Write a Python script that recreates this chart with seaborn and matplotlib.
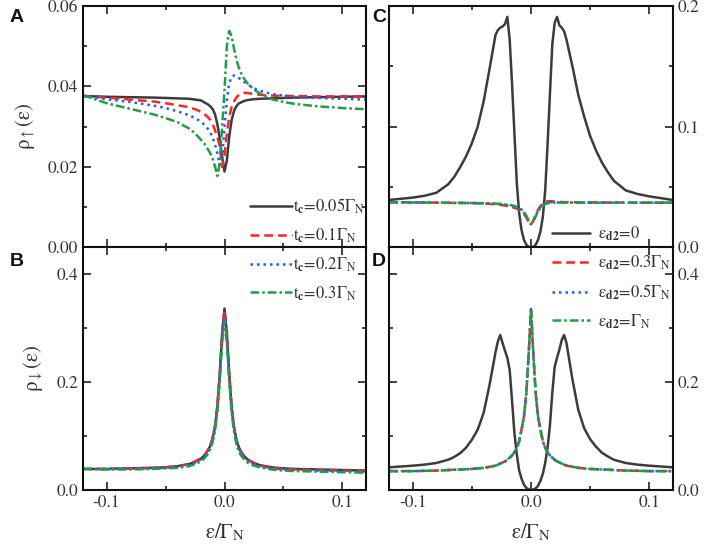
import numpy as np
import pandas as pd
import matplotlib
matplotlib.use('Agg')
import matplotlib.pyplot as plt
from matplotlib.ticker import MultipleLocator, FormatStrFormatter
import seaborn as sns

# x grids (denser near the centre)
x_ab = [-0.12, -0.10, -0.08, -0.06, -0.05, -0.04, -0.03, -0.025, -0.02, -0.017, -0.014,
        -0.012, -0.010, -0.008, -0.006, -0.004, -0.002, 0.0, 0.002, 0.004, 0.006, 0.008,
        0.010, 0.012, 0.014, 0.017, 0.02, 0.025, 0.03, 0.04, 0.05, 0.06, 0.08, 0.10, 0.12]

x_cd = [-0.12, -0.10, -0.09, -0.08, -0.07, -0.065, -0.06, -0.055, -0.05, -0.045, -0.04,
        -0.035, -0.03, -0.028, -0.026, -0.024, -0.022, -0.020, -0.018, -0.016, -0.014,
        -0.012, -0.010, -0.008, -0.006, -0.004, -0.002, 0.0,
        0.002, 0.004, 0.006, 0.008, 0.010, 0.012, 0.014, 0.016, 0.018, 0.020, 0.022,
        0.024, 0.026, 0.028, 0.03, 0.035, 0.04, 0.045, 0.05, 0.055, 0.06, 0.065, 0.07,
        0.08, 0.09, 0.10, 0.12]

# panel A: spin up
black_a = [0.0376, 0.0374, 0.0373, 0.0372, 0.0371, 0.0370, 0.0369, 0.0367, 0.0365, 0.0360, 0.0355,
           0.0350, 0.0343, 0.0330, 0.0305, 0.0270, 0.0222, 0.0188, 0.0215, 0.0275, 0.0315, 0.0338,
           0.0350, 0.0357, 0.0360, 0.0364, 0.0366, 0.0368, 0.0369, 0.0370, 0.0371, 0.0372, 0.0373,
           0.0374, 0.0375]
red_a = [0.0376, 0.0372, 0.0367, 0.0362, 0.0358, 0.0353, 0.0348, 0.0343, 0.0337, 0.0331, 0.0323,
         0.0316, 0.0306, 0.0290, 0.0273, 0.0251, 0.0199, 0.0228, 0.0282, 0.0325, 0.0348, 0.0362,
         0.0372, 0.0378, 0.0382, 0.0384, 0.0383, 0.0381, 0.0379, 0.0377, 0.0376, 0.0376, 0.0375,
         0.0375, 0.0375]
blue_a = [0.0376, 0.0368, 0.0361, 0.0352, 0.0346, 0.0338, 0.0328, 0.0321, 0.0312, 0.0304, 0.0294,
          0.0285, 0.0272, 0.0255, 0.0232, 0.0205, 0.0218, 0.0300, 0.0365, 0.0408, 0.0424, 0.0427,
          0.0425, 0.0421, 0.0417, 0.0410, 0.0404, 0.0395, 0.0389, 0.0381, 0.0377, 0.0374, 0.0371,
          0.0369, 0.0367]
green_a = [0.0378, 0.0358, 0.0344, 0.0330, 0.0321, 0.0311, 0.0295, 0.0283, 0.0267, 0.0257, 0.0243,
           0.0233, 0.0219, 0.0200, 0.0177, 0.0210, 0.0300, 0.0390, 0.0500, 0.0538, 0.0525, 0.0495,
           0.0468, 0.0448, 0.0433, 0.0417, 0.0406, 0.0392, 0.0382, 0.0368, 0.0361, 0.0356, 0.0350,
           0.0346, 0.0343]

# panel B: spin down
black_b = [0.039, 0.039, 0.040, 0.041, 0.042, 0.044, 0.048, 0.052, 0.058, 0.064, 0.073,
           0.082, 0.096, 0.118, 0.155, 0.215, 0.290, 0.336, 0.290, 0.215, 0.155, 0.118,
           0.094, 0.080, 0.071, 0.062, 0.056, 0.050, 0.046, 0.042, 0.040, 0.039, 0.038,
           0.037, 0.036]
red_b = [0.039, 0.039, 0.040, 0.041, 0.042, 0.044, 0.048, 0.053, 0.059, 0.065, 0.074,
         0.083, 0.097, 0.120, 0.157, 0.216, 0.289, 0.333, 0.288, 0.213, 0.153, 0.116,
         0.093, 0.079, 0.070, 0.061, 0.055, 0.049, 0.045, 0.041, 0.039, 0.038, 0.037,
         0.036, 0.035]
blue_b = [0.039, 0.039, 0.040, 0.041, 0.042, 0.043, 0.047, 0.051, 0.057, 0.063, 0.072,
          0.081, 0.095, 0.117, 0.153, 0.212, 0.286, 0.330, 0.286, 0.212, 0.152, 0.115,
          0.092, 0.078, 0.069, 0.060, 0.054, 0.048, 0.044, 0.040, 0.038, 0.037, 0.036,
          0.035, 0.034]
green_b = [0.039, 0.038, 0.038, 0.039, 0.040, 0.041, 0.044, 0.048, 0.053, 0.059, 0.067,
           0.076, 0.089, 0.110, 0.145, 0.202, 0.272, 0.313, 0.272, 0.202, 0.144, 0.108,
           0.086, 0.072, 0.064, 0.056, 0.050, 0.045, 0.042, 0.038, 0.036, 0.035, 0.034,
           0.033, 0.032]

# panel C
black_c = [0.039, 0.041, 0.0425, 0.045, 0.052, 0.058, 0.066, 0.075, 0.086, 0.100, 0.121,
           0.148, 0.176, 0.180, 0.182, 0.183, 0.185, 0.191, 0.172, 0.135, 0.094,
           0.053, 0.028, 0.014, 0.006, 0.002, 0.000, 0.000,
           0.000, 0.002, 0.006, 0.013, 0.025, 0.047, 0.085, 0.127, 0.168, 0.186, 0.191,
           0.184, 0.182, 0.179, 0.172, 0.150, 0.126, 0.108, 0.092, 0.080, 0.070, 0.062, 0.055,
           0.047, 0.044, 0.042, 0.039]
red_c = [0.0372, 0.0370, 0.0369, 0.0368, 0.0367, 0.0366, 0.0366, 0.0365, 0.0365, 0.0363, 0.0361,
         0.0358, 0.0355, 0.0353, 0.0350, 0.0347, 0.0344, 0.0340, 0.0335, 0.0330, 0.0325,
         0.0318, 0.0310, 0.0297, 0.0275, 0.0245, 0.0212, 0.0185,
         0.0220, 0.0270, 0.0310, 0.0340, 0.0362, 0.0375, 0.0380, 0.0381, 0.0379, 0.0377, 0.0375,
         0.0374, 0.0373, 0.0372, 0.0372, 0.0371, 0.0371, 0.0370, 0.0370, 0.0370, 0.0370, 0.0369, 0.0369,
         0.0369, 0.0368, 0.0368, 0.0368]
blue_c = [0.0371, 0.0370, 0.0369, 0.0368, 0.0367, 0.0366, 0.0366, 0.0365, 0.0365, 0.0364, 0.0362,
          0.0360, 0.0358, 0.0356, 0.0354, 0.0352, 0.0349, 0.0346, 0.0342, 0.0338, 0.0333,
          0.0326, 0.0318, 0.0305, 0.0284, 0.0253, 0.0216, 0.0188,
          0.0218, 0.0262, 0.0302, 0.0332, 0.0353, 0.0365, 0.0371, 0.0373, 0.0372, 0.0371, 0.0370,
          0.0370, 0.0369, 0.0369, 0.0369, 0.0369, 0.0368, 0.0368, 0.0368, 0.0368, 0.0368, 0.0368, 0.0368,
          0.0368, 0.0368, 0.0368, 0.0368]
green_c = [0.0370, 0.0369, 0.0369, 0.0368, 0.0367, 0.0366, 0.0366, 0.0365, 0.0365, 0.0364, 0.0363,
           0.0362, 0.0360, 0.0359, 0.0358, 0.0356, 0.0354, 0.0352, 0.0349, 0.0345, 0.0340,
           0.0334, 0.0325, 0.0312, 0.0292, 0.0260, 0.0220, 0.0190,
           0.0215, 0.0255, 0.0295, 0.0325, 0.0345, 0.0357, 0.0363, 0.0366, 0.0367, 0.0368, 0.0368,
           0.0368, 0.0368, 0.0368, 0.0368, 0.0368, 0.0368, 0.0368, 0.0368, 0.0368, 0.0368, 0.0368, 0.0368,
           0.0368, 0.0368, 0.0368, 0.0368]

# panel D
black_d = [0.042, 0.045, 0.047, 0.050, 0.056, 0.061, 0.068, 0.078, 0.093, 0.112, 0.143,
           0.195, 0.255, 0.275, 0.287, 0.272, 0.258, 0.245, 0.222, 0.165, 0.105,
           0.066, 0.036, 0.021, 0.010, 0.004, 0.001, 0.000,
           0.001, 0.003, 0.008, 0.017, 0.030, 0.050, 0.078, 0.120, 0.180, 0.228, 0.245,
           0.260, 0.278, 0.287, 0.272, 0.205, 0.148, 0.114, 0.094, 0.080, 0.069, 0.062, 0.056,
           0.050, 0.047, 0.045, 0.042]
other_d = [0.035, 0.035, 0.0355, 0.036, 0.037, 0.0375, 0.038, 0.0385, 0.039, 0.040, 0.041,
           0.043, 0.045, 0.047, 0.049, 0.051, 0.053, 0.056, 0.060, 0.064, 0.070,
           0.078, 0.090, 0.112, 0.135, 0.178, 0.250, 0.335,
           0.250, 0.178, 0.135, 0.112, 0.090, 0.078, 0.070, 0.064, 0.060, 0.056, 0.053,
           0.051, 0.049, 0.047, 0.045, 0.043, 0.041, 0.040, 0.039, 0.0385, 0.038, 0.0375, 0.037,
           0.036, 0.0355, 0.035, 0.035]
# the three non-zero detunings lie on top of each other in D
red_d = other_d
blue_d = other_d
green_d = other_d

labels_left = ['t$_\\mathbf{c}$=0.05Γ$_\\mathrm{N}$', 't$_\\mathbf{c}$=0.1Γ$_\\mathrm{N}$',
               't$_\\mathbf{c}$=0.2Γ$_\\mathrm{N}$', 't$_\\mathbf{c}$=0.3Γ$_\\mathrm{N}$']
labels_right = ['ε$_\\mathbf{d2}$=0', 'ε$_\\mathbf{d2}$=0.3Γ$_\\mathrm{N}$',
                'ε$_\\mathbf{d2}$=0.5Γ$_\\mathrm{N}$', 'ε$_\\mathbf{d2}$=Γ$_\\mathrm{N}$']

colors = ['#3c3c3c', '#ff2424', '#1f5cff', '#1e9e46']
dashes = ['', (3.5, 2), (1, 1.6), (3.5, 1.2, 1, 1.2)]

sns.set_theme(style='ticks')
plt.rcParams['font.family'] = ['STIXGeneral', 'DejaVu Serif']
plt.rcParams['mathtext.fontset'] = 'stix'
plt.rcParams['axes.linewidth'] = 1.5

fig = plt.figure(figsize=(7.06, 5.48), dpi=100)
W, H = 706, 548


def add_ax(x0, x1, y0, y1):
    return fig.add_axes([x0 / W, 1 - y1 / H, (x1 - x0) / W, (y1 - y0) / H])


ax_a = add_ax(83, 366, 6, 247)
ax_b = add_ax(83, 366, 247, 490)
ax_c = add_ax(389, 673, 6, 247)
ax_d = add_ax(389, 673, 247, 490)


def draw(ax, x, curves, names):
    frames = []
    for name, y in zip(names, curves):
        frames.append(pd.DataFrame({'x': x, 'y': y, 'curve': name}))
    df = pd.concat(frames, ignore_index=True)
    sns.lineplot(data=df, x='x', y='y', hue='curve', style='curve', hue_order=names,
                 style_order=names, palette=colors, dashes=dashes, linewidth=1.8,
                 legend=False, ax=ax, sort=False)


draw(ax_a, x_ab, [black_a, red_a, blue_a, green_a], labels_left)
draw(ax_b, x_ab, [black_b, red_b, blue_b, green_b], labels_left)
draw(ax_c, x_cd, [black_c, red_c, blue_c, green_c], labels_right)
draw(ax_d, x_cd, [black_d, red_d, blue_d, green_d], labels_right)

limits = {ax_a: (0, 0.06, 0.02, 0.01, '%.2f'), ax_b: (0, 0.45, 0.2, 0.1, '%.1f'),
          ax_c: (0, 0.2, 0.1, 0.05, '%.1f'), ax_d: (0, 0.45, 0.2, 0.1, '%.1f')}

for ax, (lo, hi, maj, mnr, fmt) in limits.items():
    ax.set_xlim(-0.12, 0.12)
    ax.set_ylim(lo, hi)
    ax.xaxis.set_major_locator(MultipleLocator(0.1))
    ax.xaxis.set_minor_locator(MultipleLocator(0.05))
    ax.yaxis.set_major_locator(MultipleLocator(maj))
    ax.yaxis.set_minor_locator(MultipleLocator(mnr))
    ax.yaxis.set_major_formatter(FormatStrFormatter(fmt))
    ax.xaxis.set_major_formatter(FormatStrFormatter('%.1f'))
    ax.tick_params(which='both', direction='in', top=True, bottom=True, left=True, right=True,
                   width=1.3, labelsize=12.5, colors='#333333', labelcolor='#333333')
    ax.tick_params(which='major', length=6)
    ax.tick_params(which='minor', length=3)
    ax.set_xlabel('')
    ax.set_ylabel('')
    for sp in ax.spines.values():
        sp.set_color('#111111')

for ax in (ax_a, ax_c):
    ax.tick_params(labelbottom=False)
for ax in (ax_c, ax_d):
    ax.tick_params(labelleft=False, labelright=True)

ax_a.set_ylabel('ρ$_{\\uparrow}$(ε)', fontsize=15, color='#333333', labelpad=8)
ax_b.set_ylabel('ρ$_{\\downarrow}$(ε)', fontsize=15, color='#333333', labelpad=8)
for ax in (ax_b, ax_d):
    ax.set_xlabel('ε/Γ$_\\mathrm{N}$', fontsize=15, color='#333333', labelpad=8)

for lbl, (px, py) in zip('ABCD', [(17, 17), (17, 262), (379, 17), (379, 262)]):
    fig.text(px / W, 1 - py / H, lbl, fontsize=14, fontweight='bold',
             family='Liberation Sans', ha='center', va='center', color='#111111')

fig.legend(handles=ax_a.get_lines()[:4], labels=labels_left, loc='upper left',
           bbox_to_anchor=(250 / W, 1 - 197 / H), frameon=False, fontsize=12,
           handlelength=2.5, handletextpad=0.1, labelspacing=0.62, borderpad=0,
           borderaxespad=0, labelcolor='#333333')
fig.legend(handles=ax_c.get_lines()[:4], labels=labels_right, loc='upper left',
           bbox_to_anchor=(552 / W, 1 - 225 / H), frameon=False, fontsize=12,
           handlelength=2.3, handletextpad=0.48, labelspacing=0.62, borderpad=0,
           borderaxespad=0, labelcolor='#333333')

fig.savefig('out.png', dpi=100)
